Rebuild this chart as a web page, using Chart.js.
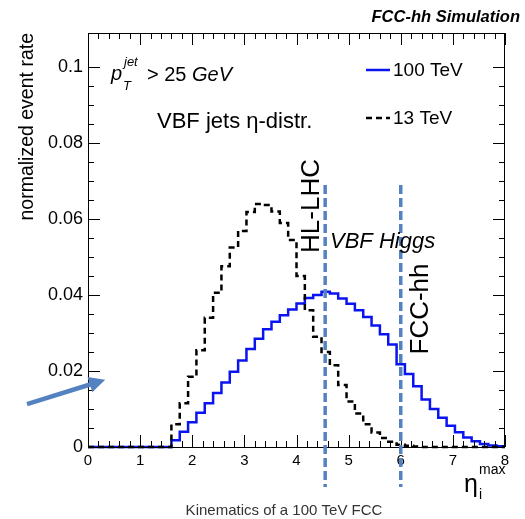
<!DOCTYPE html>
<html>
<head>
<meta charset="utf-8">
<script src="https://cdn.jsdelivr.net/npm/chart.js@4.4.0/dist/chart.umd.min.js"></script>
<style>
html, body { margin: 0; padding: 0; background: #fff; }
</style>
</head>
<body>
<canvas id="chart" width="525" height="519"></canvas>
<script>
// histogram binning: 50 bins from 0 to 8
const etaMin = 0, etaMax = 8, nBins = 50;

// normalized event rate per bin
const rate100TeV = [
  0, 0, 0, 0, 0, 0, 0, 0, 0, 0,
  0.0018, 0.0040, 0.0065, 0.0090, 0.0115, 0.0142, 0.0170, 0.0198, 0.0228, 0.0258,
  0.0285, 0.0310, 0.0330, 0.0347, 0.0362, 0.0378, 0.0392, 0.0400, 0.0409, 0.0404,
  0.0391, 0.0377, 0.0360, 0.0342, 0.0320, 0.0297, 0.0270, 0.0218, 0.0192, 0.0160,
  0.0125, 0.0100, 0.0077, 0.0056, 0.0039, 0.0025, 0.0015, 0.0008, 0.0004, 0.0002
];
const rate13TeV = [
  0, 0, 0, 0, 0, 0, 0, 0, 0, 0,
  0.0060, 0.0115, 0.0185, 0.0255, 0.0340, 0.0406, 0.0476, 0.0525, 0.0569, 0.0619,
  0.0640, 0.0637, 0.0620, 0.0590, 0.0545, 0.0450, 0.0360, 0.0290, 0.0250, 0.0215,
  0.0163, 0.0120, 0.0088, 0.0060, 0.0038, 0.0024, 0.0014, 0.0006, 0.0003, 0.0001,
  0, 0, 0, 0, 0, 0, 0, 0, 0, 0
];

const seriesNames = ['100 TeV', '13 TeV'];
const xTickLabels = ['0', '1', '2', '3', '4', '5', '6', '7', '8'];
const yTickLabels = ['0', '0.02', '0.04', '0.06', '0.08', '0.1'];

// reach of the detectors (eta_max)
const markerEta = [4.55, 6.0];
const markerNames = ['HL-LHC', 'FCC-hh'];

const FONT = "'Liberation Sans', Arial, Helvetica, sans-serif";
const LINE_BLUE = '#5482c0';

function histPoints(values) {
  const w = (etaMax - etaMin) / nBins;
  const pts = values.map((v, i) => ({ x: etaMin + i * w, y: v }));
  pts.push({ x: etaMax, y: values[values.length - 1] });
  return pts;
}

function line(ctx, x1, y1, x2, y2) {
  ctx.beginPath();
  ctx.moveTo(x1, y1);
  ctx.lineTo(x2, y2);
  ctx.stroke();
}

const framePlugin = {
  id: 'frame',
  afterDatasetsDraw(chart) {
    const ctx = chart.ctx, a = chart.chartArea;
    const xs = chart.scales.x, ys = chart.scales.y;
    ctx.save();
    ctx.strokeStyle = '#000';
    ctx.lineWidth = 1;
    ctx.strokeRect(a.left + 0.5, a.top + 0.5, a.right - a.left - 1, a.bottom - a.top);

    xs.ticks.forEach(t => {
      const px = Math.round(xs.getPixelForValue(t.value)) + 0.5;
      const major = Math.abs(t.value - Math.round(t.value)) < 1e-6;
      const len = major ? 12 : 6;
      line(ctx, px, a.bottom, px, a.bottom - len);
      line(ctx, px, a.top, px, a.top + len);
    });
    ys.ticks.forEach(t => {
      const k = t.value / 0.005;
      if (Math.abs(k - Math.round(k)) > 1e-6) return;
      const py = Math.round(ys.getPixelForValue(t.value)) + 0.5;
      const major = Math.round(k) % 4 === 0;
      const len = major ? 12 : 6;
      line(ctx, a.left, py, a.left + len, py);
      line(ctx, a.right, py, a.right - len, py);
    });

    // eta reach lines
    ctx.strokeStyle = LINE_BLUE;
    ctx.lineWidth = 3.5;
    ctx.setLineDash([9, 4]);
    markerEta.forEach(e => {
      const px = xs.getPixelForValue(e);
      line(ctx, px, ys.getPixelForValue(0.0690), px, ys.getPixelForValue(-0.0105));
    });
    ctx.setLineDash([]);

    // arrow pointing at the axis
    const ax1 = xs.getPixelForValue(-1.17), ay1 = ys.getPixelForValue(0.0113);
    const ax2 = xs.getPixelForValue(0.33), ay2 = ys.getPixelForValue(0.0177);
    const ang = Math.atan2(ay2 - ay1, ax2 - ax1);
    ctx.strokeStyle = LINE_BLUE;
    ctx.fillStyle = LINE_BLUE;
    ctx.lineWidth = 4.5;
    line(ctx, ax1, ay1, ax2 - 10 * Math.cos(ang), ay2 - 10 * Math.sin(ang));
    ctx.beginPath();
    ctx.moveTo(ax2, ay2);
    ctx.lineTo(ax2 - 16 * Math.cos(ang) + 8 * Math.sin(ang), ay2 - 16 * Math.sin(ang) - 8 * Math.cos(ang));
    ctx.lineTo(ax2 - 16 * Math.cos(ang) - 8 * Math.sin(ang), ay2 - 16 * Math.sin(ang) + 8 * Math.cos(ang));
    ctx.closePath();
    ctx.fill();

    // legend, in the order of seriesNames
    const legY = [70, 118];
    seriesNames.forEach((name, i) => {
      const d = chart.data.datasets.find(s => s.label === name);
      ctx.strokeStyle = d.borderColor;
      ctx.lineWidth = d.borderWidth;
      ctx.setLineDash(d.borderDash || []);
      line(ctx, 366, legY[i], 390, legY[i]);
      ctx.setLineDash([]);
      ctx.fillStyle = '#000';
      ctx.font = '19px ' + FONT;
      ctx.textAlign = 'left';
      ctx.textBaseline = 'middle';
      ctx.fillText(name, 393, legY[i] + 1);
    });

    ctx.fillStyle = '#000';
    ctx.textBaseline = 'alphabetic';
    // p_T^jet > 25 GeV
    ctx.font = 'italic 20px ' + FONT;
    ctx.fillText('p', 111, 80);
    ctx.font = 'italic 13px ' + FONT;
    ctx.fillText('jet', 124, 66);
    ctx.fillText('T', 123, 90);
    ctx.font = '20px ' + FONT;
    ctx.fillText('> 25 ', 147, 81);
    ctx.font = 'italic 20px ' + FONT;
    ctx.fillText('GeV', 147 + ctx.measureText('> 25 ').width, 81);

    ctx.font = '22px ' + FONT;
    ctx.fillText('VBF jets \u03b7-distr.', 157, 128);

    ctx.font = 'italic 22px ' + FONT;
    ctx.fillText('VBF Higgs', 330, 248);

    // rotated detector names
    ctx.font = '26px ' + FONT;
    ctx.textAlign = 'center';
    [[319, 206], [428, 309]].forEach((p, i) => {
      ctx.save();
      ctx.translate(p[0], p[1]);
      ctx.rotate(-Math.PI / 2);
      ctx.fillText(markerNames[i], 0, 0);
      ctx.restore();
    });

    // x axis title eta_i^max
    ctx.textAlign = 'left';
    ctx.font = '25px ' + FONT;
    ctx.fillText('\u03b7', 464, 492);
    ctx.font = '14px ' + FONT;
    ctx.fillText('max', 479, 474);
    ctx.fillText('i', 479, 499);

    // header and footer
    ctx.font = 'bold italic 16.5px ' + FONT;
    ctx.textAlign = 'right';
    ctx.fillText('FCC-hh Simulation', 520, 22);
    ctx.font = '15px ' + FONT;
    ctx.fillStyle = '#333';
    ctx.textAlign = 'center';
    ctx.fillText('Kinematics of a 100 TeV FCC', 284, 515);
    ctx.restore();
  }
};

new Chart(document.getElementById('chart'), {
  type: 'line',
  data: {
    datasets: [
      {
        label: seriesNames[1],
        data: histPoints(rate13TeV),
        borderColor: '#000',
        borderWidth: 2.5,
        borderDash: [6, 4],
        stepped: 'before',
        pointRadius: 0,
        fill: false,
        clip: 4,
        order: 0
      },
      {
        label: seriesNames[0],
        data: histPoints(rate100TeV),
        borderColor: '#0a14f0',
        borderWidth: 2.5,
        stepped: 'before',
        pointRadius: 0,
        fill: false,
        clip: 4,
        order: 1
      }
    ]
  },
  options: {
    responsive: false,
    animation: false,
    layout: { padding: { top: 33, right: 20, left: 0, bottom: 0 } },
    plugins: { legend: { display: false }, tooltip: { enabled: false } },
    scales: {
      x: {
        type: 'linear',
        min: etaMin,
        max: etaMax,
        grid: { display: false, drawTicks: false },
        border: { display: false },
        afterFit: s => { s.height = 72; },
        ticks: {
          stepSize: 0.2,
          autoSkip: false,
          maxRotation: 0,
          padding: 5,
          color: '#000',
          font: { family: FONT, size: 15 },
          callback: v => {
            const k = Math.round(v);
            return Math.abs(v - k) < 1e-6 ? xTickLabels[k] : '';
          }
        }
      },
      y: {
        min: 0,
        max: 0.109,
        grid: { display: false, drawTicks: false },
        border: { display: false },
        afterFit: s => { s.width = 88; },
        title: {
          display: true,
          text: 'normalized event rate',
          align: 'end',
          color: '#000',
          font: { family: FONT, size: 19.5 },
          padding: { top: 16, bottom: 0 }
        },
        ticks: {
          stepSize: 0.005,
          autoSkip: false,
          padding: 5,
          color: '#000',
          font: { family: FONT, size: 18 },
          callback: v => {
            const k = Math.round(v / 0.02);
            return Math.abs(v - k * 0.02) < 1e-9 ? yTickLabels[k] : '';
          }
        }
      }
    }
  },
  plugins: [framePlugin]
});
</script>
</body>
</html>
